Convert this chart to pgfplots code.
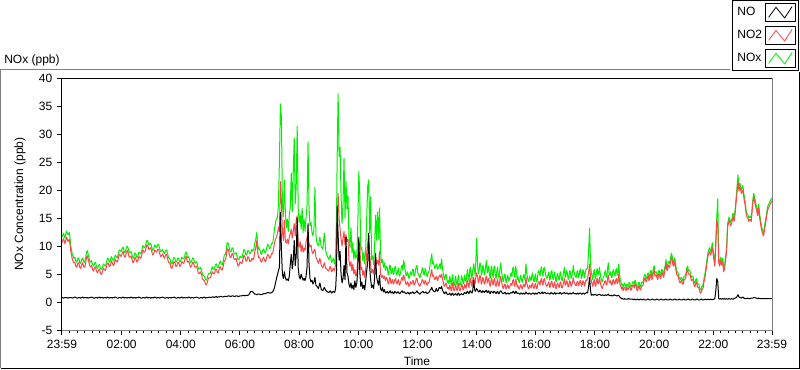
\documentclass[border=0pt]{standalone}
\usepackage{fontspec}
\setmainfont{Liberation Sans}
\usepackage{pgfplots}
\usepackage{pgfplotstable}
\pgfplotsset{compat=1.18}
\definecolor{noxgreen}{RGB}{0,240,0}
\definecolor{notwored}{RGB}{255,70,70}
\definecolor{framegray}{RGB}{128,128,128}

\pgfplotstableread{
t no no2 nox
-1 0.8 10.6 11.6
2 0.7 11.3 12.3
5 0.8 10.4 11.4
8 0.8 11.6 12.7
11 0.7 10.8 12.0
14 0.8 11.2 12.4
17 0.8 9.0 9.9
20 0.7 7.6 8.5
23 0.8 7.0 7.8
25 0.9 7.1 8.0
27 0.8 6.4 7.3
29 0.7 6.2 7.1
31 0.7 6.9 7.7
33 0.8 7.0 7.9
35 0.8 6.2 7.0
37 0.7 6.0 6.9
39 0.8 6.7 7.6
41 0.9 7.0 7.9
43 0.7 6.3 7.2
45 0.8 6.2 7.1
47 0.8 7.0 7.9
48.5 0.7 7.9 8.8
50 0.8 8.3 9.2
53 0.7 7.4 8.2
55 0.8 6.5 7.3
57 0.8 6.3 7.1
59 0.9 6.5 7.4
61 0.8 5.8 6.7
63 0.7 5.5 6.4
65 0.7 6.1 6.9
67 0.8 6.3 7.1
69 0.8 5.5 6.3
71 0.7 5.2 6.0
73 0.8 5.7 6.5
75 0.9 5.9 6.7
77 0.7 5.1 6.0
79 0.8 4.9 5.8
81 0.8 5.4 6.2
83 0.7 6.0 6.8
85 0.8 5.8 6.6
87 0.8 5.6 6.4
89 0.7 6.2 7.0
91 0.9 6.9 7.8
93 0.8 6.9 7.7
95 0.7 6.3 7.1
97 0.8 6.5 7.4
99 0.8 7.3 8.1
101 0.7 7.0 7.8
103 0.8 6.5 7.3
105 0.8 6.8 7.6
107 0.9 7.6 8.4
109 0.8 7.3 8.1
111 0.7 7.1 7.9
113 0.7 7.7 8.5
115 0.8 8.5 9.3
117 0.8 8.4 9.2
119 0.7 8.1 9.0
121 0.8 8.7 9.6
123 0.9 9.0 9.8
125 0.7 8.2 9.0
127 0.8 8.0 8.8
129 0.8 8.6 9.5
131 0.7 9.2 10.0
133 0.8 8.9 9.7
135 0.8 8.0 8.9
137 0.7 8.0 8.8
139 0.9 8.2 9.0
141 0.8 7.6 8.4
143 0.7 7.0 7.8
145 0.8 7.3 8.1
147 0.8 8.0 8.8
149 0.7 7.7 8.5
151 0.8 7.1 7.9
153 0.8 7.4 8.2
155 0.9 8.1 8.9
157 0.8 8.0 8.8
159 0.7 7.8 8.6
161 0.7 8.5 9.3
163 0.8 9.3 10.1
165 0.8 9.0 9.8
167 0.7 8.9 9.7
169 0.8 9.5 10.3
171 0.9 10.2 11.0
173 0.7 10.1 10.9
175 0.8 9.4 10.2
177 0.8 9.5 10.4
179 0.7 9.7 10.5
181 0.8 9.0 9.8
183 0.8 8.4 9.2
185 0.7 8.6 9.5
187 0.9 9.3 10.2
189 0.8 9.1 9.9
191 0.7 8.9 9.7
193 0.8 9.4 10.2
195 0.8 9.4 10.3
197 0.7 8.7 9.6
199 0.8 8.1 9.0
201 0.8 8.3 9.2
203 0.9 8.6 9.4
205 0.8 8.1 8.9
207 0.7 7.8 8.6
209 0.7 8.4 9.2
211 0.8 8.5 9.3
213 0.8 7.8 8.7
215 0.7 7.1 7.9
217 0.8 7.0 7.8
218.5 0.8 6.8 7.6
220 0.7 6.1 6.9
222 0.8 6.0 6.8
224 0.8 6.6 7.4
226 0.9 7.2 8.0
228 0.8 7.0 7.8
230 0.7 6.3 7.1
232 0.7 6.5 7.3
234 0.8 7.1 7.9
236 0.8 6.9 7.7
238 0.7 6.3 7.1
240 0.8 6.6 7.4
242 0.9 7.2 8.0
244 0.7 7.0 7.8
246 0.8 6.9 7.7
248 0.8 7.5 8.3
249.5 0.7 8.0 8.8
251 0.8 8.1 8.9
252.5 0.8 7.4 8.2
254 0.7 7.1 7.9
256 0.9 7.3 8.1
258 0.8 6.7 7.5
260 0.7 6.2 7.0
262 0.8 6.5 7.3
264 0.8 7.1 7.9
266 0.7 6.9 7.7
268 0.8 6.2 7.0
270 0.8 6.3 7.1
272 0.9 6.4 7.2
274 0.8 5.7 6.5
276 0.7 5.1 5.9
278 0.7 5.1 5.9
280 0.8 5.4 6.2
282 0.8 4.9 5.7
284 0.7 4.1 4.9
286 0.8 3.9 4.7
288 0.9 3.8 4.6
290 0.7 3.2 4.0
292 0.8 3.1 3.9
294 0.8 3.6 4.4
296 0.8 4.3 5.1
298 0.9 4.3 5.1
300 0.8 4.3 5.1
302 0.8 4.9 5.8
304 0.9 5.4 6.3
306 0.9 5.1 5.9
308 0.8 5.0 5.8
310 0.9 5.7 6.6
312 1.0 5.9 6.8
314 0.8 5.3 6.2
316 0.9 5.2 6.1
318 0.9 6.0 6.9
320 1.0 6.3 7.3
322 1.0 5.8 6.8
324 0.9 5.7 6.6
326 0.9 6.4 7.3
328 1.0 7.3 8.3
330 1.0 7.5 8.5
332 1.0 8.1 9.1
334 1.0 9.5 10.6
336 1.1 9.4 10.5
338 1.1 8.7 9.8
340 1.0 7.9 9.0
342 1.0 8.0 9.0
344 1.1 8.7 9.7
346 1.1 8.5 9.5
348 1.0 7.6 8.6
350 1.0 7.6 8.6
352 1.1 7.8 8.8
354 1.1 7.1 8.2
356 1.0 6.4 7.5
358 1.0 6.6 7.6
360 1.1 7.2 8.2
362 1.1 7.0 8.0
364 1.1 6.9 7.9
366 1.2 7.6 8.7
368 1.2 8.3 9.4
370 1.1 8.1 9.2
372 1.2 7.3 8.4
374 1.2 7.4 8.5
376 1.2 8.1 9.2
378 1.3 7.9 9.1
380 1.6 7.2 8.6
382 1.9 7.2 8.9
384 1.9 7.8 9.4
386 1.8 7.5 9.1
388 1.6 7.8 9.4
390 1.4 9.0 10.5
392 1.4 9.7 11.2
394 1.3 10.9 12.4
396 1.4 8.8 10.2
398 1.4 7.9 9.4
400 1.4 8.0 9.5
402 1.3 7.3 8.7
404 1.3 7.1 8.5
406 1.4 7.7 9.2
408 1.5 8.0 9.5
410 1.5 7.4 8.9
412 1.5 7.2 8.8
414 1.6 7.9 9.6
416 1.7 8.5 10.3
418 1.7 8.3 10.1
420 1.6 7.8 9.5
422 1.6 8.0 9.7
424 1.7 8.7 10.5
426 1.8 8.6 10.4
428 2.1 9.4 11.4
430 2.6 10.6 13.1
433 3.8 11.4 14.6
436 4.9 12.2 15.1
438 5.6 13.4 17.5
440 6.2 12.6 25.4
442 16.0 21.5 35.4
444 9.5 17.8 33.0
446 5.0 12.6 17.5
448 4.2 11.0 15.2
450 5.4 14.6 21.8
452 4.3 10.8 16.0
454 3.9 10.5 13.2
456 4.1 11.2 14.8
458 3.8 10.4 12.6
460 4.6 11.6 15.4
462 6.8 12.2 17.0
464 8.5 13.0 23.0
466 5.9 11.4 16.2
468 7.4 12.6 23.2
470 11.0 14.0 29.3
472 6.5 11.8 17.5
474 8.2 14.6 20.5
476 15.0 15.4 31.4
478 6.1 10.6 16.8
480 4.6 9.8 14.2
482 4.1 10.8 15.6
484 5.0 9.0 13.0
486 4.4 10.2 16.8
488 3.9 8.9 12.4
490 4.2 9.6 14.8
492 3.8 9.2 12.6
494 4.6 10.8 15.2
496 6.2 11.4 17.2
498 14.0 13.0 28.6
500 6.8 10.4 17.0
502 4.2 9.8 13.6
504 3.6 10.2 14.2
506 3.9 9.0 12.4
508 3.2 8.6 11.8
510 3.6 9.2 13.0
512 4.4 9.4 20.5
514 3.0 8.0 12.0
516 2.8 7.6 10.6
519 2.4 6.9 10.0
522 3.4 7.8 11.6
525 2.2 6.5 9.8
528 2.0 6.1 9.4
531 2.6 7.0 12.3
534 2.1 6.0 9.0
537 1.8 5.8 8.2
540 1.7 5.5 7.6
543 2.0 6.4 8.4
546 1.6 5.4 7.0
549 1.9 6.0 7.8
552 1.7 5.6 6.8
554 2.4 6.9 8.6
556 6.0 10.0 16.5
557 17.0 14.0 25.4
559 12.0 19.4 37.2
561 7.5 14.8 26.0
563 9.0 13.0 27.7
565 5.0 11.2 18.9
567 3.4 10.0 14.0
569 4.2 11.4 17.5
571 6.5 12.6 25.7
573 4.0 10.2 15.0
575 11.6 12.0 21.5
577 5.2 10.8 16.6
579 4.6 11.2 19.0
581 3.2 7.4 11.4
583 2.6 6.4 9.6
585 3.4 7.2 13.3
587 2.4 5.6 8.8
589 3.0 6.8 10.6
591 2.2 5.0 7.6
593 3.8 5.8 9.2
595 2.6 4.6 7.8
597 3.4 5.0 8.4
599 6.0 8.2 14.0
601 11.6 11.0 23.3
603 5.4 10.2 19.0
605 2.8 5.8 9.4
607 3.6 6.2 9.8
609 2.4 4.8 7.4
611 3.0 5.6 8.8
613 2.2 4.4 6.8
615 3.8 6.0 9.6
617 5.6 8.8 15.0
619 7.0 10.4 20.6
621 12.3 11.8 21.8
623 6.2 8.4 12.3
625 4.0 6.6 18.8
627 2.6 5.2 7.6
629 3.0 5.8 8.2
631 2.4 5.0 6.6
633 4.2 6.4 10.0
635 8.7 8.0 15.5
637 4.6 6.8 11.0
639 3.6 7.4 16.1
641 3.0 6.6 11.2
643 4.8 9.0 16.8
645 2.4 5.0 8.9
647 2.0 4.4 7.0
649 2.6 4.8 7.6
651 1.8 4.2 6.2
653 2.2 4.6 7.0
655 1.6 3.8 5.6
657 1.7 4.4 6.4
659 1.9 4.0 6.0
660.5 1.6 3.2 4.8
662 1.6 3.4 5.2
663.5 1.9 4.4 6.6
665 2.0 4.2 6.4
666.5 1.6 3.3 5.0
668 1.7 3.6 5.4
669.5 1.8 4.0 6.0
671 1.5 3.2 4.9
672.5 1.6 3.4 5.2
674 1.9 4.0 6.2
675.5 1.8 4.2 6.4
677 1.6 3.5 5.0
678.5 1.6 3.2 4.8
680 1.8 3.8 5.6
681.5 1.8 4.0 6.0
683 1.5 3.0 4.6
684.5 1.5 3.2 4.8
686 1.7 3.6 5.4
687.5 1.9 4.2 6.4
689 2.0 4.4 6.6
690.5 1.7 3.8 5.6
692 1.8 4.8 7.4
693.5 1.8 4.4 6.8
695 1.6 3.8 5.6
696.5 1.5 3.2 4.8
698 1.5 3.1 4.7
699.5 1.7 3.6 5.4
701 1.7 3.4 5.0
702.5 1.5 2.8 4.2
704 1.4 2.9 4.4
705.5 1.7 3.6 5.4
707 1.6 3.3 5.0
708.5 1.6 3.2 4.8
710 1.8 3.8 5.8
711.5 1.7 3.8 5.8
713 1.5 3.0 4.6
714.5 1.6 3.2 4.8
716 1.7 3.6 5.6
717.5 1.8 4.2 6.4
719 2.0 4.2 6.5
720.5 1.7 3.5 5.2
722 1.6 3.2 4.9
723.5 1.5 3.0 4.6
725 1.4 2.8 4.3
726.5 1.6 3.3 5.0
728 1.7 3.4 5.2
729.5 1.8 4.0 6.1
731 1.9 3.9 6.0
732.5 1.7 3.4 5.0
734 1.6 3.2 4.8
735.5 1.7 3.9 6.0
737 1.8 3.6 5.6
738.5 1.6 3.2 4.8
740 1.5 3.0 4.5
741.5 1.6 3.5 5.4
743 1.7 3.4 5.2
744.5 1.9 4.0 6.0
746 2.2 4.6 7.0
747.5 2.3 5.2 7.8
749 2.6 5.8 8.6
750.5 2.2 4.6 6.8
752 2.0 4.8 7.2
753.5 1.9 4.4 6.6
755 1.8 4.0 6.0
756.5 2.0 4.2 6.2
758 2.4 4.6 6.8
759.5 2.1 4.2 6.4
761 1.9 3.8 5.8
762.5 2.2 4.4 6.2
764 2.6 4.6 6.4
765.5 2.5 4.8 6.8
767 2.4 4.4 6.0
769 2.8 5.0 7.7
770.5 2.1 4.2 6.2
772 1.9 3.6 5.2
773.5 1.6 3.0 4.4
775 1.5 2.8 4.0
776.5 1.7 3.2 4.8
778 1.8 3.4 5.0
779.5 1.5 2.8 4.0
781 1.3 2.4 3.4
782.5 1.4 2.6 3.8
784 1.4 2.2 3.2
785.5 1.6 3.0 4.6
787 1.3 2.6 3.8
788.5 1.2 2.0 3.0
790 1.5 2.9 4.2
791.5 1.6 3.4 4.9
793 1.2 2.2 3.1
794.5 1.3 2.0 2.9
796 1.4 2.6 3.9
797.5 1.5 3.1 4.6
799 1.3 2.3 3.4
800.5 1.2 2.0 3.0
802 1.5 2.9 4.3
803.5 1.6 3.3 4.8
805 1.2 2.1 3.0
806.5 1.3 2.0 3.0
808 1.4 2.5 3.6
809.5 1.5 3.2 4.7
811 1.3 2.8 4.1
812.5 1.3 2.1 3.2
814 1.5 2.4 3.5
815.5 1.7 3.2 4.8
817 1.6 2.7 4.0
818.5 1.5 2.4 3.6
820 1.8 3.4 5.0
821.5 1.9 3.9 5.8
823 1.6 3.0 4.4
824.5 1.5 2.6 3.8
826 1.9 3.8 5.8
827.5 2.0 4.2 6.2
829 1.7 3.2 4.6
830.5 1.6 2.8 4.2
832 2.0 3.9 5.6
834 3.8 4.4 6.8
836 2.2 3.6 5.4
837 1.9 3.2 4.8
838 2.0 4.2 6.6
840 2.4 5.2 11.4
842 2.1 4.4 6.4
843.5 1.8 3.4 5.0
845 1.8 3.8 5.6
846.5 2.1 4.8 7.0
848 2.0 4.4 6.8
849.5 1.7 3.2 4.8
851 1.7 3.6 5.2
852.5 2.0 4.4 6.6
854 1.9 4.0 6.0
855.5 1.7 3.2 4.8
857 1.8 3.4 5.4
858.5 2.0 4.4 6.6
860 2.1 4.6 7.4
861.5 1.7 3.4 5.2
863 1.8 3.9 5.8
864.5 2.0 4.2 6.4
866 1.6 3.2 4.8
867.5 1.5 2.8 4.2
869 1.9 3.8 5.9
870.5 1.9 4.2 6.4
872 1.7 3.4 5.0
873.5 1.6 3.0 4.4
875 1.9 4.0 6.2
876.5 1.9 4.2 6.4
878 1.6 3.0 4.6
879.5 1.5 2.8 4.2
881 1.8 3.6 5.6
882.5 1.9 4.0 6.2
884 1.5 3.1 4.7
885.5 1.5 2.8 4.2
887 1.8 3.9 5.8
889 2.0 4.6 7.0
890.5 1.8 3.6 5.4
892 1.6 3.0 4.6
893.5 1.5 2.4 3.6
895 1.5 2.6 4.0
896.5 1.7 3.2 5.0
898 1.7 3.1 4.8
899.5 1.4 2.3 3.4
901 1.5 2.5 3.8
902.5 1.6 3.1 4.8
904 1.6 2.9 4.4
905.5 1.4 2.4 3.7
907 1.5 2.7 4.2
908.5 1.6 3.2 4.9
910 1.7 3.3 5.2
911.5 1.6 2.9 4.5
913 1.8 3.8 6.0
914.5 1.9 4.0 6.2
916 1.6 3.2 4.9
917.5 1.5 2.8 4.4
919 1.9 4.0 6.4
920.5 1.8 3.6 5.6
922 1.5 2.7 4.0
923.5 1.6 3.0 4.6
925 1.6 2.5 3.8
926.5 1.4 2.3 3.4
928 1.4 2.8 4.3
929.5 1.6 3.1 4.8
931 1.6 2.6 3.9
932.5 1.4 2.3 3.5
934 1.5 2.9 4.4
935.5 1.6 3.2 4.9
937 1.4 2.7 4.1
938.5 1.5 3.0 4.8
940 1.8 4.4 6.8
941.5 1.6 3.4 5.2
943 1.5 2.9 4.4
944.5 1.4 2.4 3.8
946 1.6 2.4 3.6
947.5 1.6 3.0 4.6
949 1.4 2.8 4.2
950.5 1.4 2.5 3.8
952 1.5 3.2 4.8
953.5 1.6 3.4 5.2
955 1.6 2.6 3.8
956.5 1.4 2.4 3.6
958 1.4 3.0 4.6
959.5 1.6 3.3 5.0
961 1.5 2.5 3.6
962.5 1.4 2.4 3.6
964 1.6 3.2 4.9
965.5 1.7 3.6 5.6
967 1.7 3.6 5.4
968.5 1.5 3.0 4.6
970 1.5 3.9 5.8
971.5 1.7 4.2 6.3
973 1.8 3.4 5.2
974.5 1.5 3.0 4.6
976 1.6 4.0 6.0
977.5 1.7 4.2 6.2
979 1.7 3.5 5.4
980.5 1.5 3.0 4.6
982 1.5 2.8 4.2
983.5 1.6 3.0 4.4
985 1.6 3.4 5.0
986.5 1.5 3.6 5.4
988 1.4 2.6 3.9
989.5 1.5 2.8 4.2
991 1.7 3.6 5.5
992.5 1.6 3.7 5.6
994 1.5 2.9 4.4
995.5 1.4 2.6 4.0
997 1.6 3.3 5.0
998.5 1.7 3.6 5.4
1000 1.4 2.5 3.9
1001.5 1.5 2.4 3.6
1003 1.6 3.2 4.8
1004.5 1.6 3.4 5.1
1006 1.5 2.8 4.2
1007.5 1.5 2.6 3.9
1009 1.7 3.4 5.1
1010.5 1.6 3.6 5.4
1012 1.4 2.6 4.0
1013.5 1.5 2.5 3.8
1015 1.6 3.0 4.6
1016.5 1.6 3.6 5.4
1018 1.7 4.2 6.2
1019.5 1.5 3.0 4.4
1021 1.5 3.1 4.6
1022.5 1.6 3.8 5.6
1024 1.6 3.5 5.2
1025.5 1.4 2.7 4.0
1027 1.4 2.8 4.3
1028.5 1.6 3.8 5.6
1030 1.6 3.6 5.4
1031.5 1.4 2.8 4.2
1033 1.5 3.0 4.5
1034.5 1.6 3.6 5.4
1036 1.7 4.3 6.5
1037.5 1.5 3.6 5.4
1039 1.5 3.3 4.9
1040.5 1.5 3.0 4.5
1042 1.4 2.9 4.4
1043.5 1.5 3.6 5.4
1045 1.6 3.7 5.6
1046.5 1.4 2.9 4.3
1048 1.5 3.2 4.8
1049.5 1.6 3.8 5.7
1051 1.6 3.8 5.9
1052.5 1.4 2.8 4.2
1054 1.4 3.1 4.6
1055.5 1.6 3.8 5.8
1057 1.6 3.6 5.4
1058.5 1.4 2.8 4.3
1060 1.5 3.3 5.0
1061.5 1.6 3.9 5.9
1063 1.7 3.8 5.8
1065 1.6 4.2 6.2
1067 2.8 5.2 9.0
1069 4.4 6.8 13.2
1071 2.0 4.4 6.6
1072.5 1.2 3.8 5.4
1074 1.3 3.2 4.6
1075.5 1.3 2.8 4.0
1077 1.2 3.6 5.2
1078.5 1.3 4.0 5.8
1080 1.4 3.0 4.4
1081.5 1.3 2.8 4.1
1083 1.2 3.8 5.4
1084.5 1.2 4.2 6.0
1086 1.3 3.2 4.8
1087.5 1.3 3.4 5.0
1089 1.4 4.4 6.2
1090.5 1.3 3.6 5.2
1092 1.2 3.0 4.3
1093.5 1.2 2.6 3.8
1095 1.3 2.4 3.6
1096.5 1.2 3.0 4.4
1098 1.1 3.2 4.6
1099.5 1.2 3.6 5.2
1101 1.3 3.8 5.6
1102.5 1.2 3.2 4.6
1104 1.2 3.0 4.4
1105.5 1.3 4.2 6.0
1107 1.4 4.8 7.0
1108.5 1.2 3.6 5.0
1110 1.1 3.4 4.8
1111.5 1.2 3.8 5.4
1113 1.2 3.2 4.6
1114.5 1.1 3.0 4.3
1116 1.1 3.8 5.4
1117.5 1.2 4.0 5.8
1119 1.3 3.4 5.0
1120.5 1.2 3.2 4.6
1122 1.2 3.9 5.6
1123.5 1.1 4.2 6.0
1125 1.1 3.3 4.8
1126.5 1.2 3.4 4.9
1128 1.2 4.9 6.8
1131 0.8 3.0 4.0
1132.5 0.7 2.8 3.6
1134 0.6 2.3 3.0
1135.5 0.6 2.6 3.2
1137 0.5 2.0 2.6
1138.5 0.5 2.5 3.1
1140 0.6 2.6 3.4
1141.5 0.5 2.3 2.9
1143 0.5 2.0 2.5
1144.5 0.5 2.6 3.2
1146 0.5 2.4 3.0
1147.5 0.6 2.2 2.8
1149 0.6 2.7 3.5
1150.5 0.5 2.8 3.4
1152 0.5 2.2 2.8
1153.5 0.5 2.1 2.7
1155 0.5 2.6 3.2
1156.5 0.5 3.0 3.6
1158 0.4 3.0 3.6
1159.5 0.5 2.5 3.1
1161 0.5 3.3 3.9
1162.5 0.4 3.1 3.7
1164 0.4 2.5 3.0
1165.5 0.5 2.0 2.6
1167 0.5 2.2 2.8
1168.5 0.4 2.9 3.5
1170 0.4 2.8 3.4
1171.5 0.5 2.1 2.7
1173 0.5 2.3 2.9
1174.5 0.4 2.9 3.5
1176 0.4 2.9 3.5
1177.5 0.5 3.0 3.6
1179 0.5 3.6 4.4
1180.5 0.4 4.2 4.9
1182 0.4 4.2 4.8
1183.5 0.4 3.6 4.2
1185 0.4 3.7 4.3
1186.5 0.5 4.4 5.0
1188 0.5 4.6 5.2
1189.5 0.4 3.8 4.4
1191 0.4 4.0 4.6
1192.5 0.4 5.0 5.6
1194 0.4 5.0 5.6
1195.5 0.5 4.0 4.6
1197 0.5 4.4 5.0
1198.5 0.4 5.4 6.0
1200 0.4 5.8 6.5
1201.5 0.4 4.6 5.2
1203 0.4 4.8 5.4
1204.5 0.5 4.8 5.4
1206 0.5 4.2 4.8
1207.5 0.4 4.0 4.6
1209 0.4 5.0 5.6
1210.5 0.4 5.0 5.6
1212 0.4 4.4 5.0
1213.5 0.5 4.2 4.8
1215 0.5 5.2 5.8
1216.5 0.4 5.2 5.8
1218 0.4 4.6 5.3
1219.5 0.4 4.4 5.0
1221 0.4 5.4 6.0
1222.5 0.5 6.0 6.6
1224 0.5 6.8 7.6
1225.5 0.4 5.8 6.4
1227 0.4 5.6 6.2
1228.5 0.4 6.6 7.2
1230 0.4 6.4 7.2
1231.5 0.5 6.2 6.9
1233 0.5 7.0 7.8
1235 0.4 7.9 8.7
1236.5 0.4 7.6 8.2
1238 0.4 6.6 7.2
1239.5 0.4 6.4 7.0
1241 0.5 7.2 7.9
1242.5 0.5 6.8 7.4
1244 0.4 5.8 6.4
1245.5 0.4 5.0 5.6
1247 0.4 4.8 5.4
1248.5 0.4 4.6 5.2
1250 0.5 4.0 4.6
1251.5 0.5 3.6 4.2
1253 0.4 3.4 4.0
1254.5 0.4 3.8 4.4
1256 0.4 3.8 4.4
1257.5 0.4 3.2 3.8
1259 0.5 3.2 3.8
1260.5 0.5 4.0 4.6
1262 0.4 4.0 4.6
1263.5 0.4 4.2 4.8
1265 0.4 4.8 5.4
1266.5 0.4 5.6 6.2
1268 0.5 5.8 6.4
1269.5 0.5 5.0 5.6
1271 0.4 5.0 5.6
1272.5 0.4 5.0 5.6
1274 0.4 4.4 5.0
1275.5 0.4 3.8 4.4
1277 0.5 4.0 4.6
1278.5 0.5 4.0 4.6
1280 0.4 3.4 4.0
1281.5 0.4 2.8 3.4
1283 0.4 2.8 3.4
1284.5 0.4 3.4 4.0
1286 0.5 3.6 4.2
1287.5 0.5 2.8 3.4
1289 0.4 2.6 3.2
1290.5 0.4 2.6 3.2
1292 0.4 2.0 2.6
1293.5 0.4 1.6 2.2
1295 0.5 1.6 2.2
1296.5 0.5 2.2 2.8
1298 0.4 2.2 2.8
1299.5 0.4 2.6 3.2
1301 0.4 3.6 4.2
1303 0.5 4.4 5.0
1306 0.4 6.2 6.9
1309 0.5 8.2 8.8
1312 0.4 9.0 9.7
1315 0.5 8.4 9.0
1318 0.4 9.8 10.6
1321 0.5 7.6 8.2
1323 0.6 6.4 7.0
1325 2.0 10.2 10.8
1327 4.2 14.6 15.2
1329 3.6 13.8 18.4
1331 0.6 7.0 7.6
1333 0.5 6.4 7.0
1335 0.6 7.4 8.0
1337 0.5 6.6 7.2
1339 0.6 7.2 7.8
1341 0.5 5.4 6.0
1343 0.6 6.0 6.6
1345 0.5 7.6 8.2
1347 0.6 9.2 9.8
1349 0.5 13.4 14.0
1352 0.6 14.6 15.2
1355 0.5 13.6 14.2
1357 0.6 14.0 14.6
1360 0.5 15.2 15.9
1362 0.6 14.4 15.0
1364 0.7 15.6 16.3
1367 0.8 18.6 19.4
1370 1.3 21.5 22.7
1372 0.9 19.8 20.6
1374 0.8 20.6 21.2
1377 0.7 19.4 20.0
1380 0.9 20.0 20.8
1382 0.7 18.6 19.2
1384 0.6 17.6 18.3
1387 0.6 15.4 16.0
1390 0.7 15.0 15.6
1392 0.6 14.4 15.0
1394 0.6 14.8 15.3
1397 0.7 14.4 15.0
1400 0.7 17.6 18.2
1402 0.8 18.8 19.4
1404 0.8 17.8 18.6
1407 0.7 16.6 17.2
1410 0.6 15.4 16.0
1412 0.7 16.8 17.4
1414 0.6 15.0 15.7
1416 0.6 13.8 14.4
1418 0.6 12.8 13.4
1420 0.6 12.2 12.8
1422 0.6 11.8 12.4
1424 0.6 13.0 13.6
1427 0.6 14.6 15.2
1430 0.6 16.4 17.0
1433 0.6 17.0 17.6
1436 0.6 17.6 18.2
1439 0.6 18.0 18.6
}\datatable

\begin{document}
\begin{tikzpicture}[font=\fontsize{9}{10.8}\selectfont]
\path[use as bounding box] (-46.5pt,-29.25pt) rectangle (553.5pt,247.5pt);
\begin{axis}[
  name=ax,
  at={(0pt,0pt)}, anchor=south west,
  scale only axis, width=532.5pt, height=189pt,
  xmin=-1, xmax=1439, ymin=-5, ymax=40,
  axis line style={draw=none},
  xtick={-1,120,240,360,480,600,720,840,960,1080,1200,1320,1439},
  xticklabels={23:59,02:00,04:00,06:00,08:00,10:00,12:00,14:00,16:00,18:00,20:00,22:00,23:59},
  minor xtick={15,30,...,1425},
  ytick={-5,0,5,10,15,20,25,30,35,40},
  yticklabels={-5,0,5,10,15,20,25,30,35,40},
  tick align=outside,
  xtick pos=bottom, ytick pos=left,
  major tick length=3.75pt,
  minor tick length=2.25pt,
  tick style={black, line width=0.75pt},
  tick label style={font=\fontsize{9}{10.8}\selectfont, black},
  every axis x label/.style={at={(axis description cs:0.5,-0.123)}, anchor=center},
  every axis y label/.style={at={(axis description cs:-0.0592,0.5)}, rotate=90, anchor=center},
  label style={font=\fontsize{9}{10.8}\selectfont},
  xlabel={Time},
  ylabel={NOx Concentration (ppb)},
  legend style={
    at={(1.0380,1.3095)}, anchor=north east,
    draw=black, line width=0.75pt, fill=white,
    font=\fontsize{9}{10.8}\selectfont,
    inner xsep=2pt, inner ysep=2pt,
    row sep=3pt,
  },
  legend cell align=left,
  legend plot pos=right,
  reverse legend,
  legend image code/.code={
    \draw[black, line width=0.75pt, solid, fill=white] (0pt,-6.75pt) rectangle (22.5pt,6.75pt);
    \draw[#1, line width=0.6pt, line join=round] (2.5pt,-3.5pt) -- (8pt,4pt) -- (14.5pt,-4pt) -- (20pt,4.5pt);
  },
]
\addplot[noxgreen, line width=0.75pt, line join=round] table[x=t,y=nox]{\datatable};
\addplot[notwored, line width=0.75pt, line join=round] table[x=t,y=no2]{\datatable};
\addplot[black, line width=0.75pt, line join=round] table[x=t,y=no]{\datatable};
\legend{NOx,NO2,NO}
\end{axis}
\draw[black, line width=0.75pt] (ax.south west) -- (ax.north west) -- (ax.north east);
\draw[framegray, line width=0.75pt] (ax.south west) -- (ax.south east) -- (ax.north east);
\draw[framegray, line width=0.75pt] (-45.75pt,-28.5pt) -- (-45.75pt,195.75pt) -- (501pt,195.75pt);
\draw[black, line width=0.75pt] (-45.75pt,-28.5pt) -- (552.75pt,-28.5pt) -- (552.75pt,193.5pt);
\node[anchor=west, inner sep=0pt] at (-43.5pt,202.5pt) {NOx (ppb)};
\end{tikzpicture}
\end{document}
